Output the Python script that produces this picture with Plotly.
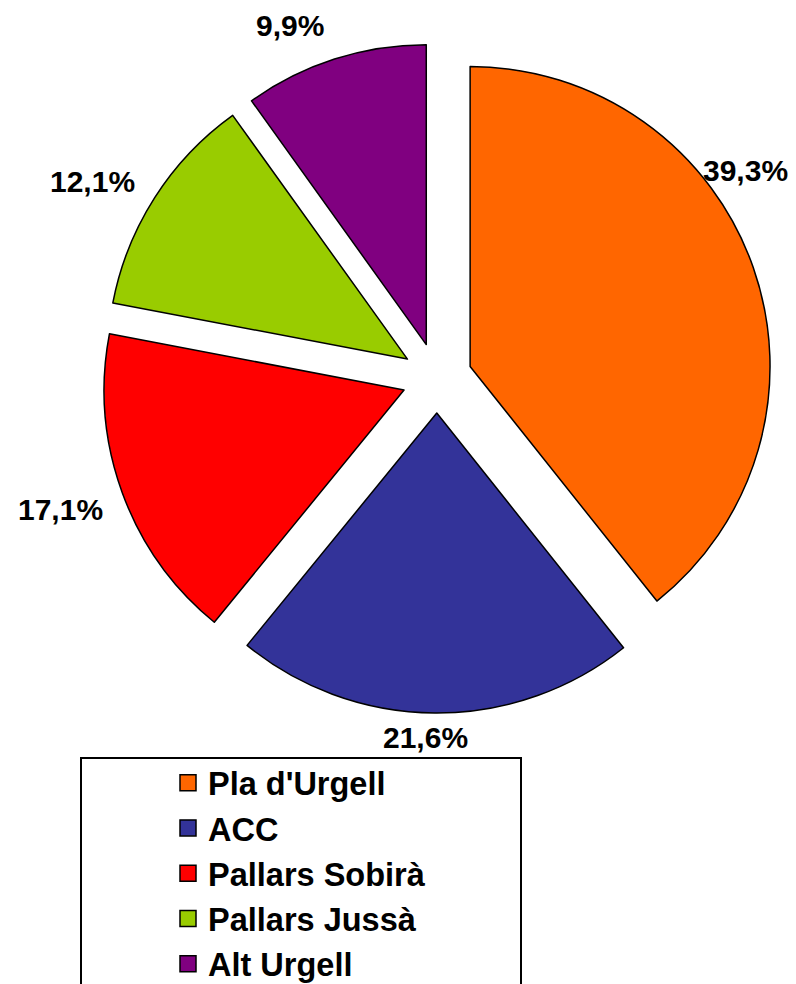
import math
import plotly.graph_objects as go

categories = ["Pla d'Urgell", "ACC", "Pallars Sobirà", "Pallars Jussà", "Alt Urgell"]
values = [39.3, 21.6, 17.1, 12.1, 9.9]
value_labels = ["39,3%", "21,6%", "17,1%", "12,1%", "9,9%"]
colors = ["#FF6600", "#333399", "#FF0000", "#99CC00", "#800080"]

# label placement styling (angle tweak in degrees, distance from pie centre in px)
label_angle_adjust = [-14.6, 1.5, 0.8, -2.9, -4.8]
label_radius = [372, 360, 399, 397, 382]

# the page body has an 8px margin; size the figure so that it fits the window
OFF = 8
FW, FH = 796 - OFF, 984 - OFF
FONT = "Liberation Sans, Arial, sans-serif"


def px(x):
    return (x - OFF) / FW


def py(y):
    return 1 - (y - OFF) / FH


CX, CY, HALF = 437, 378, 335  # pie centre / half-size of pie domain (page px)
PULL = 0.117

fig = go.Figure()
fig.add_trace(go.Pie(
    labels=categories, values=values,
    textinfo="none",
    sort=False, direction="clockwise", rotation=0,
    pull=[PULL] * len(values),
    marker=dict(colors=colors, line=dict(color="black", width=1.5)),
    showlegend=False, hoverinfo="label+percent",
    domain=dict(x=[px(CX - HALF), px(CX + HALF)], y=[py(CY + HALF), py(CY - HALF)]),
))

# value labels placed around the pie from the slice angles
total = sum(values)
cum = 0.0
for v, lab, da, rr in zip(values, value_labels, label_angle_adjust, label_radius):
    mid = (cum + v / 2) / total * 360 + da
    cum += v
    a = math.radians(mid)
    lx = CX + rr * math.sin(a)
    ly = CY - rr * math.cos(a)
    fig.add_annotation(x=px(lx), y=py(ly), xref="paper", yref="paper",
                       text=lab, showarrow=False, xanchor="center", yanchor="middle",
                       font=dict(family=FONT, size=30, color="black", weight="bold"))

for i, (c, col) in enumerate(zip(categories, colors)):
    fig.add_trace(go.Scatter(
        x=[None], y=[None], mode="markers", name=c,
        legendgroup=f"g{i}",
        marker=dict(symbol="square", size=16, color=col, line=dict(color="black", width=1.5)),
    ))

fig.add_shape(type="rect", xref="paper", yref="paper",
              x0=px(81), x1=px(521), y0=-0.05, y1=py(758),
              line=dict(color="black", width=2), fillcolor="rgba(0,0,0,0)")

fig.update_layout(
    width=FW, height=FH,
    margin=dict(l=0, r=0, t=0, b=0, autoexpand=False),
    paper_bgcolor="white", plot_bgcolor="white",
    xaxis=dict(visible=False), yaxis=dict(visible=False),
    showlegend=True,
    legend=dict(x=px(168), y=py(755), xanchor="left", yanchor="top",
                font=dict(family=FONT, size=32.5, color="black", weight="bold"),
                tracegroupgap=0, bgcolor="rgba(0,0,0,0)", borderwidth=0),
)

fig.write_html("out.html")
